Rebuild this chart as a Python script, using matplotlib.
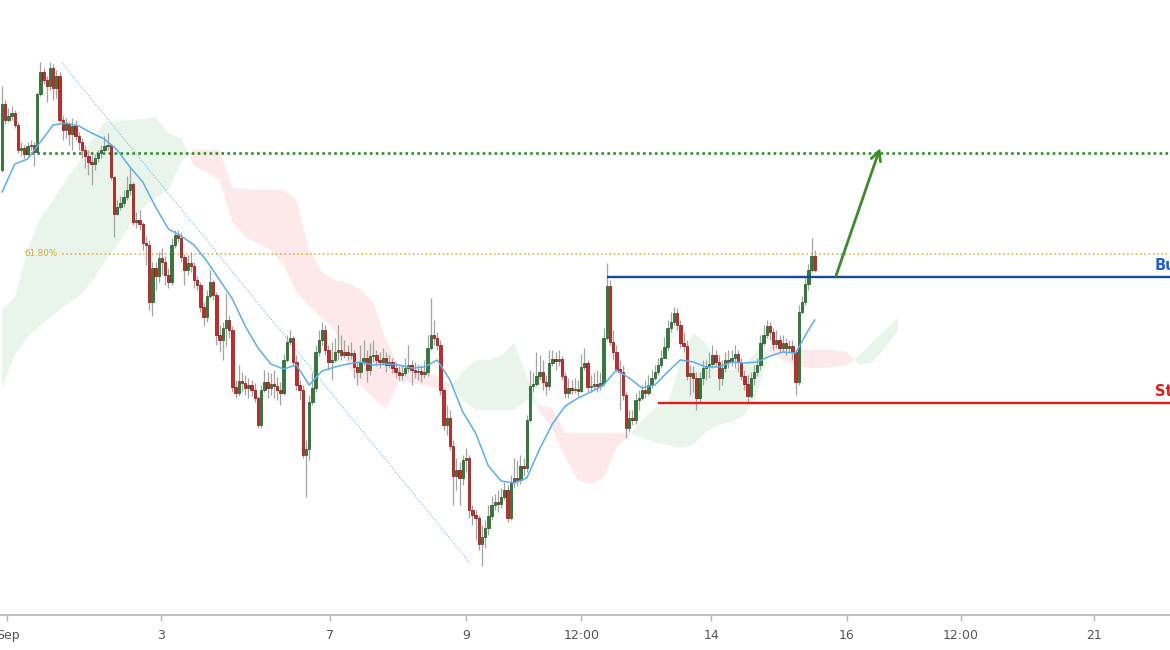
import numpy as np
import matplotlib.pyplot as plt

# hourly candles, price in points (the chart shows no price scale)
first_open = 480
close = [546, 530, 534, 537, 525, 500, 502, 496, 504, 505,
         498, 556, 578, 570, 564, 582, 562, 574, 530, 520,
         526, 516, 524, 514, 508, 500, 494, 488, 486, 492,
         497, 500, 504, 505, 473, 436, 443, 447, 453, 460,
         466, 428, 430, 426, 407, 405, 348, 382, 374, 392,
         388, 375, 368, 405, 415, 412, 393, 380, 387, 384,
         370, 365, 343, 333, 354, 368, 355, 315, 310, 322,
         330, 320, 263, 257, 269, 267, 262, 265, 260, 252,
         225, 260, 268, 262, 266, 264, 260, 257, 290, 308,
         312, 288, 265, 260, 195, 201, 248, 262, 298, 310,
         320, 300, 288, 290, 298, 300, 295, 298, 295, 297,
         283, 278, 288, 292, 280, 294, 295, 290, 288, 292,
         285, 288, 282, 278, 275, 277, 282, 285, 280, 278,
         279, 276, 278, 302, 315, 312, 305, 260, 225, 232,
         204, 174, 180, 172, 190, 192, 140, 135, 132, 106,
         113, 122, 134, 145, 148, 146, 153, 160, 132, 168,
         172, 170, 184, 182, 230, 264, 266, 274, 278, 268,
         264, 287, 291, 289, 291, 274, 257, 262, 260, 261,
         259, 283, 287, 263, 264, 266, 264, 267, 312, 364,
         308, 298, 281, 278, 255, 222, 232, 230, 250, 252,
         260, 257, 265, 272, 278, 285, 292, 303, 322, 328,
         337, 325, 307, 304, 274, 277, 272, 252, 272, 282,
         284, 286, 295, 288, 272, 282, 290, 288, 292, 296,
         288, 274, 266, 254, 272, 278, 285, 307, 315, 324,
         318, 306, 310, 302, 307, 302, 304, 298, 268, 338,
         348, 366, 380, 394, 380]
high = [564, 550, 542, 544, 540, 528, 508, 505, 508, 510,
        508, 558, 588, 582, 574, 588, 586, 580, 578, 535,
        532, 528, 532, 530, 518, 512, 505, 500, 495, 496,
        500, 505, 514, 517, 506, 474, 450, 454, 460, 474,
        482, 468, 438, 440, 428, 414, 410, 388, 388, 398,
        402, 394, 382, 412, 420, 420, 418, 396, 395, 398,
        388, 374, 368, 348, 360, 380, 370, 358, 325, 328,
        357, 335, 324, 270, 285, 278, 275, 272, 270, 267,
        254, 265, 280, 278, 277, 280, 273, 268, 296, 315,
        320, 314, 295, 270, 265, 210, 255, 278, 305, 320,
        328, 325, 305, 308, 312, 325, 315, 310, 305, 308,
        300, 288, 305, 310, 300, 307, 310, 300, 298, 302,
        298, 295, 292, 288, 284, 285, 292, 305, 290, 288,
        286, 285, 290, 315, 352, 330, 318, 310, 262, 245,
        240, 210, 192, 188, 195, 202, 195, 145, 140, 135,
        125, 130, 145, 154, 156, 160, 162, 168, 165, 175,
        192, 190, 195, 192, 235, 280, 278, 298, 295, 290,
        275, 300, 300, 298, 300, 294, 278, 272, 270, 272,
        270, 296, 302, 290, 275, 278, 280, 278, 322, 387,
        370, 320, 305, 290, 285, 258, 240, 240, 257, 260,
        265, 270, 275, 280, 285, 292, 300, 313, 330, 338,
        343, 342, 330, 318, 310, 285, 284, 278, 278, 290,
        290, 298, 305, 300, 295, 290, 298, 300, 300, 305,
        300, 292, 280, 275, 278, 285, 292, 315, 325, 330,
        328, 322, 320, 315, 315, 312, 310, 310, 300, 345,
        354, 372, 386, 412, 400]
low = [478, 526, 528, 530, 522, 497, 494, 492, 494, 500,
       484, 496, 554, 566, 548, 560, 550, 552, 528, 510,
       512, 505, 500, 510, 500, 492, 482, 475, 465, 480,
       488, 492, 498, 500, 470, 413, 435, 440, 443, 450,
       455, 425, 422, 420, 400, 385, 340, 334, 360, 368,
       375, 365, 362, 365, 402, 408, 388, 365, 375, 378,
       362, 360, 338, 324, 328, 352, 350, 305, 298, 290,
       304, 312, 258, 252, 254, 258, 255, 252, 254, 248,
       222, 222, 258, 252, 255, 252, 250, 245, 255, 288,
       305, 284, 260, 250, 192, 153, 190, 245, 258, 294,
       305, 295, 280, 270, 288, 290, 290, 292, 290, 291,
       272, 265, 272, 285, 268, 275, 288, 284, 282, 285,
       278, 282, 277, 272, 270, 270, 274, 278, 265, 272,
       270, 268, 272, 274, 300, 305, 300, 255, 220, 215,
       200, 145, 160, 145, 165, 178, 132, 125, 110, 100,
       84, 102, 115, 130, 140, 138, 142, 150, 128, 130,
       162, 164, 166, 174, 178, 228, 258, 264, 270, 260,
       255, 260, 284, 280, 284, 270, 252, 252, 256, 257,
       254, 258, 280, 258, 258, 260, 258, 260, 264, 310,
       305, 290, 278, 240, 250, 212, 218, 225, 226, 240,
       250, 252, 255, 262, 270, 275, 282, 292, 300, 318,
       325, 320, 302, 298, 270, 255, 258, 240, 248, 265,
       270, 272, 282, 284, 260, 265, 278, 282, 284, 282,
       278, 270, 260, 248, 252, 265, 274, 280, 305, 312,
       310, 300, 302, 298, 298, 295, 298, 290, 255, 265,
       336, 345, 360, 378, 378]

# moving average read every 4 bars
ma_idx = list(range(0, 253, 4)) + [254]
ma_val = [458, 486, 491, 508, 525, 527, 524, 517, 511, 500,
          483, 468, 443, 421, 414, 405, 389, 370, 351, 324,
          302, 286, 281, 285, 265, 279, 283, 286, 288, 285,
          286, 285, 282, 283, 290, 270, 238, 217, 184, 169,
          167, 172, 201, 226, 244, 252, 258, 265, 280, 272,
          262, 265, 278, 290, 288, 283, 283, 288, 287, 288,
          294, 298, 297, 320, 330]

# ichimoku cloud edges (already shifted forward), every 4 bars
cloud_idx = list(range(0, 281, 4))
span_a = [340, 353, 400, 432, 450, 470, 488, 510, 528, 529,
          530, 531, 533, 517, 512, 484, 478, 470, 428, 414,
          406, 400, 385, 358, 344, 332, 320, 285, 265, 252,
          242, 268, 267, 265, 262, 262, 278, 290, 290, 294,
          307, 274, 238, 222, 192, 170, 166, 172, 202, 214,
          230, 242, 245, 290, 317, 307, 282, 280, 285, 300,
          298, 290, 284, 282, 282, 283, 285, 295, 308, 320,
          332]
span_b = [262, 295, 313, 325, 335, 345, 353, 368, 388, 405,
          424, 442, 452, 460, 488, 501, 500, 500, 462, 461,
          460, 460, 460, 450, 400, 378, 370, 367, 360, 348,
          310, 284, 282, 280, 274, 266, 250, 240, 240, 240,
          240, 250, 245, 242, 217, 217, 217, 217, 217, 217,
          212, 208, 205, 202, 205, 218, 225, 228, 235, 255,
          304, 302, 300, 300, 300, 300, 298, 285, 288, 302,
          320]

tick_pos = [1.7, 49.7, 102.5, 145, 181, 221.6, 264, 299.7, 341.3]
tick_lab = ['Sep', '3', '7', '9', '12:00', '14', '16', '12:00', '21']

tp_level = 497
fib_level = 396
buy_level = 373
stop_level = 247
trend_x = [18.75, 146.25]
trend_y = [587, 87]

close = np.array(close)
high = np.array(high)
low = np.array(low)
opens = np.r_[first_open, close[:-1]]
idx = np.arange(len(close))
up = close >= opens

fig = plt.figure(figsize=(11.7, 6.5), dpi=100)
ax = fig.add_axes([0, 35 / 650, 1, 615 / 650])
ax.set_xlim(-0.625, 365)
ax.set_ylim(35, 650)

# cloud
a = np.array(span_a)
b = np.array(span_b)
ax.fill_between(cloud_idx, a, b, where=a >= b, interpolate=True,
                color='#e9f5ea', lw=0, zorder=1)
ax.fill_between(cloud_idx, a, b, where=a < b, interpolate=True,
                color='#fde9e9', lw=0, zorder=1)

# levels
xr = 400
ax.hlines(tp_level, 7.2, xr, color='#2f8f2f', lw=1.9,
          linestyles=[(0, (1, 1.25))], zorder=2)
ax.hlines(fib_level, 18.75, xr, color='#dba72a', lw=1.1,
          linestyles=[(0, (1, 1.8))], zorder=2)
ax.text(17.5, fib_level, '61.80%', color='#d4a634', fontsize=6.3,
        ha='right', va='center')
ax.plot(trend_x, trend_y, color='#7ab8ee', lw=0.8, ls=(0, (1, 1.5)), zorder=2)

# candles
ax.vlines(idx, low, high, color='#a3a3a3', lw=0.9, zorder=3)
ax.bar(idx, close - opens, bottom=opens, width=0.72,
       color=np.where(up, '#2f7d34', '#d42424'),
       edgecolor=np.where(up, '#1d5a22', '#8a1010'), linewidth=0.5, zorder=4)

ax.plot(ma_idx, ma_val, color='#5aaef0', lw=1.1, zorder=5)

# trade levels
ax.hlines(buy_level, 189, xr, color='#134a9c', lw=1.7, zorder=6)
ax.hlines(stop_level, 205, xr, color='#e41a1a', lw=1.7, zorder=6)
ax.text(360.3, buy_level + 4, 'Buy', color='#2160d8', fontsize=10.5,
        fontweight='bold', ha='left', va='bottom', clip_on=True)
ax.text(360.3, stop_level + 4, 'Stop', color='#e41a1a', fontsize=10.5,
        fontweight='bold', ha='left', va='bottom', clip_on=True)

ax.annotate('', xy=(274.4, 502), xytext=(260.6, 374),
            arrowprops=dict(arrowstyle='->,head_length=0.7,head_width=0.35',
                            color='#3d8b2c', lw=2, shrinkA=0, shrinkB=0),
            zorder=6)

for s in ['top', 'right', 'left']:
    ax.spines[s].set_visible(False)
ax.spines['bottom'].set_color('#b5b5b5')
ax.spines['bottom'].set_linewidth(1.2)
ax.set_yticks([])
ax.set_xticks(tick_pos)
ax.set_xticklabels(tick_lab)
ax.tick_params(axis='x', colors='#b5b5b5', length=4, width=1, pad=6,
               labelcolor='#555555', labelsize=9)

fig.savefig('out.png', dpi=100)
